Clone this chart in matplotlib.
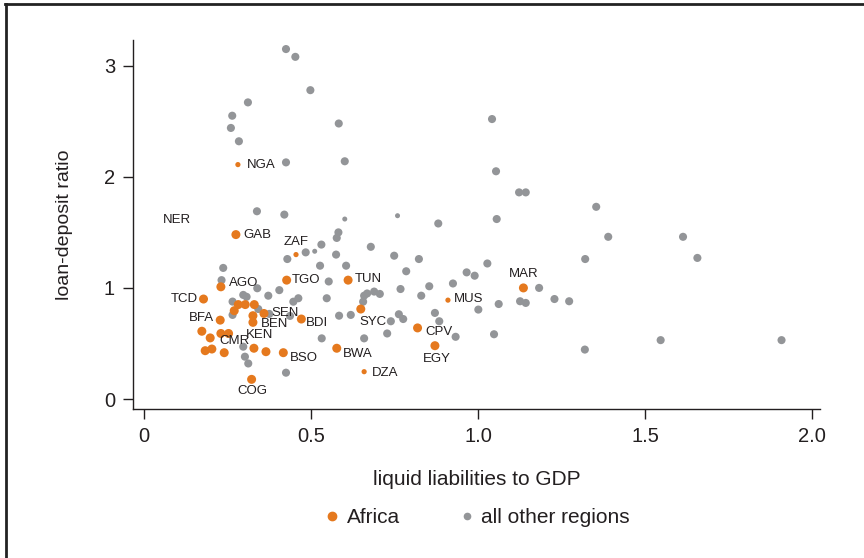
import matplotlib
matplotlib.use('Agg')
from matplotlib import pyplot as plt
from matplotlib.lines import Line2D

plt.rcParams['font.family'] = ['Liberation Sans', 'DejaVu Sans']

# ------------------------------- data ------------------------------- #

africa_code = ['NGA', 'GAB', 'ZAF', 'AGO', 'TGO', 'TUN', 'TCD', 'BFA', 'SEN', 'BEN',
               'KEN', 'CMR', 'BDI', 'SYC', 'CPV', 'EGY', 'MUS', 'MAR', 'BSO', 'BWA',
               'DZA', 'COG', '', '', '', '', '', '', '', '', '', '', '', '']
africa_x = [0.281, 0.275, 0.455, 0.230, 0.427, 0.611, 0.178, 0.228, 0.359, 0.326,
            0.329, 0.253, 0.471, 0.649, 0.819, 0.871, 0.910, 1.136, 0.417, 0.577,
            0.659, 0.322, 0.173, 0.198, 0.230, 0.183, 0.203, 0.240, 0.365, 0.270,
            0.282, 0.303, 0.330, 0.326]
africa_y = [2.11, 1.48, 1.30, 1.01, 1.07, 1.07, 0.90, 0.71, 0.77, 0.69,
            0.457, 0.59, 0.72, 0.81, 0.64, 0.48, 0.89, 1.00, 0.417, 0.457,
            0.246, 0.177, 0.61, 0.55, 0.59, 0.435, 0.45, 0.417, 0.426, 0.795,
            0.85, 0.85, 0.85, 0.75]

other_x = [0.425, 0.453, 0.498, 0.311, 0.264, 0.260, 0.284, 0.583, 0.425, 0.601,
           0.338, 0.420, 0.601, 1.042, 1.054, 1.123, 1.143, 1.354, 0.759, 0.881,
           1.056, 1.390, 1.614, 1.657, 1.547, 1.909, 0.679, 0.749, 0.823, 1.321,
           0.785, 1.028, 0.966, 0.990, 0.768, 0.854, 0.830, 0.925, 1.183, 1.062,
           1.126, 1.143, 1.229, 1.273, 1.001, 0.871, 0.884, 0.763, 0.776, 0.739,
           0.728, 0.933, 1.048, 1.320, 0.582, 0.577, 0.531, 0.511, 0.484, 0.429,
           0.575, 0.527, 0.605, 0.553, 0.659, 0.668, 0.689, 0.706, 0.656, 0.547,
           0.462, 0.447, 0.584, 0.619, 0.532, 0.659, 0.237, 0.232, 0.339, 0.297,
           0.307, 0.372, 0.405, 0.265, 0.342, 0.265, 0.375, 0.437, 0.297, 0.302,
           0.312, 0.425]
other_y = [3.15, 3.08, 2.78, 2.67, 2.55, 2.44, 2.32, 2.48, 2.13, 2.14,
           1.69, 1.66, 1.62, 2.52, 2.05, 1.86, 1.86, 1.73, 1.65, 1.58,
           1.62, 1.46, 1.46, 1.27, 0.53, 0.53, 1.37, 1.29, 1.26, 1.26,
           1.15, 1.22, 1.14, 1.11, 0.99, 1.015, 0.93, 1.04, 1.00, 0.855,
           0.88, 0.865, 0.90, 0.88, 0.805, 0.775, 0.70, 0.763, 0.72, 0.70,
           0.59, 0.56, 0.583, 0.445, 1.50, 1.45, 1.39, 1.33, 1.32, 1.26,
           1.30, 1.20, 1.20, 1.058, 0.93, 0.95, 0.967, 0.946, 0.876, 0.907,
           0.907, 0.876, 0.75, 0.757, 0.546, 0.546, 1.18, 1.07, 0.997, 0.937,
           0.92, 0.93, 0.98, 0.877, 0.81, 0.757, 0.766, 0.748, 0.471, 0.381,
           0.32, 0.237]

x_ticks = [0, 0.5, 1.0, 1.5, 2.0]
x_ticklabels = ['0', '0.5', '1.0', '1.5', '2.0']
y_ticks = [0, 1, 2, 3]

# ------------------------------- style ------------------------------- #

orange = '#e5791e'
gray = '#939598'
ink = '#231f20'
small_africa = ['NGA', 'ZAF', 'MUS', 'DZA']
small_other = [12, 18, 57]

# label offsets in pixels (dx, dy, ha)
label_offset = {
    'NGA': (9, 0, 'left'), 'GAB': (7, 0, 'left'), 'ZAF': (0, 13, 'center'),
    'AGO': (8, 4, 'left'), 'TGO': (5, 0, 'left'), 'TUN': (7, 1, 'left'),
    'TCD': (-6, 0, 'right'), 'BFA': (-6, 2, 'right'), 'SEN': (7, 0, 'left'),
    'BEN': (8, -2, 'left'), 'KEN': (6, 13, 'center'), 'CMR': (6, -8, 'center'),
    'BDI': (5, -4, 'left'), 'SYC': (12, -13, 'center'), 'CPV': (8, -4, 'left'),
    'EGY': (2, -13, 'center'), 'MUS': (6, 1, 'left'), 'MAR': (0, 14, 'center'),
    'BSO': (7, -5, 'left'), 'BWA': (6, -6, 'left'), 'DZA': (8, -1, 'left'),
    'COG': (1, -12, 'center'),
}

fig = plt.figure(figsize=(8.64, 5.58), dpi=100)
ax = fig.add_axes([0.154, 0.267, 0.795, 0.661])

o_sizes = [13 if i in small_other else 34 for i in range(len(other_x))]
a_sizes = [14 if c in small_africa else 42 for c in africa_code]
ax.scatter(other_x, other_y, s=o_sizes, color=gray, linewidths=0, zorder=2)
ax.scatter(africa_x, africa_y, s=a_sizes, color=orange, linewidths=0, zorder=3)

for code, x, y in zip(africa_code, africa_x, africa_y):
    if not code:
        continue
    dx, dy, ha = label_offset[code]
    ax.annotate(code, (x, y), xytext=(dx, dy), textcoords='offset pixels',
                ha=ha, va='center', fontsize=9.5, color=ink, zorder=4)

# NER has a label but no marker in the original
ax.text(0.057, 1.61, 'NER', ha='left', va='center', fontsize=9.5, color=ink)

ax.set_xlim(-0.033, 2.024)
ax.set_ylim(-0.09, 3.23)
ax.set_xticks(x_ticks)
ax.set_xticklabels(x_ticklabels)
ax.set_yticks(y_ticks)
ax.tick_params(direction='out', length=7, width=1, labelsize=14.5, colors=ink, pad=6)
for side in ['top', 'right']:
    ax.spines[side].set_visible(False)
for side in ['left', 'bottom']:
    ax.spines[side].set_color(ink)
    ax.spines[side].set_linewidth(1)

ax.set_xlabel('liquid liabilities to GDP', fontsize=15, color=ink, labelpad=17)
ax.set_ylabel('loan-deposit ratio', fontsize=14, color=ink, labelpad=22)

handles = [
    Line2D([], [], marker='o', linestyle='', color=orange, markersize=6, label='Africa'),
    Line2D([], [], marker='o', linestyle='', color=gray, markersize=4.5, label='all other regions'),
]
fig.legend(handles=handles, loc='center', bbox_to_anchor=(0.551, 0.072), ncol=2,
           frameon=False, fontsize=15, handlelength=1.0, handletextpad=0.2,
           columnspacing=2.7, labelcolor=ink)

# cropped frame: top and left edges only
fig.add_artist(Line2D([0.006, 1.0], [0.993, 0.993], transform=fig.transFigure,
                      color='#222222', linewidth=2))
fig.add_artist(Line2D([0.007, 0.007], [0.0, 0.993], transform=fig.transFigure,
                      color='#222222', linewidth=2))

fig.savefig('out.png', dpi=100)
